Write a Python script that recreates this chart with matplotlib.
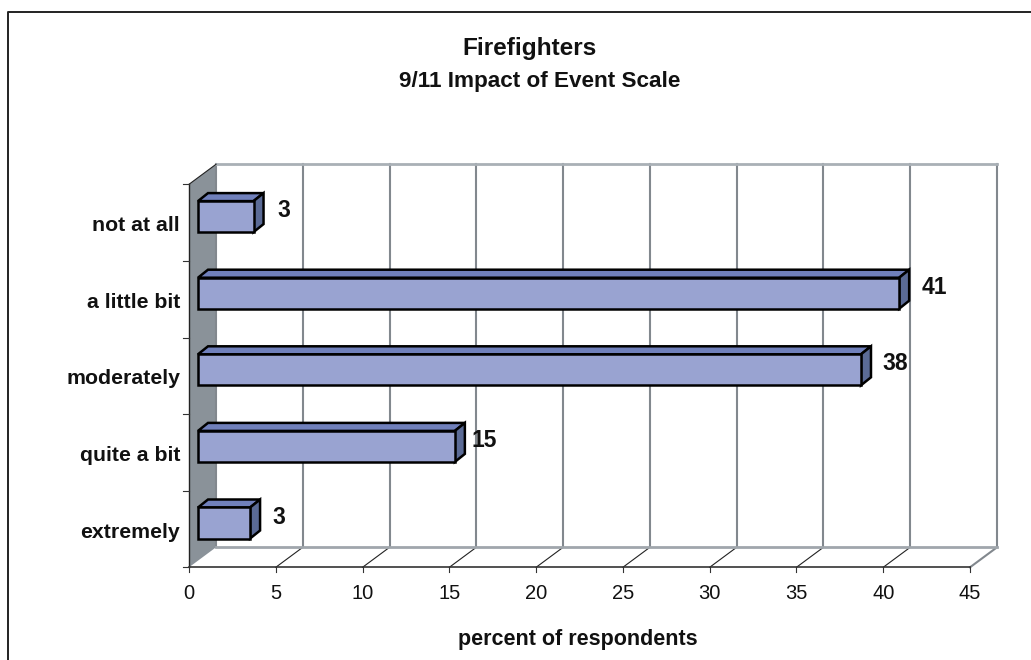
import matplotlib
matplotlib.use("Agg")
import matplotlib.pyplot as plt
from matplotlib.patches import Polygon

# top to bottom, as on the chart
categories = ["not at all", "a little bit", "moderately", "quite a bit", "extremely"]
bar_lengths = [3.2, 40.4, 38.2, 14.8, 3.0]
value_labels = ["3", "41", "38", "15", "3"]
x_ticks = [0, 5, 10, 15, 20, 25, 30, 35, 40, 45]

W, H = 1031, 660
LEFT, RIGHT, TOP, BOTTOM = 189, 970, 184.3, 567.3

plt.rcParams['font.family'] = ['Liberation Sans', 'DejaVu Sans']

fig = plt.figure(figsize=(W / 100, H / 100), dpi=100)
ax = fig.add_axes([LEFT / W, 1 - BOTTOM / H, (RIGHT - LEFT) / W, (BOTTOM - TOP) / H])
ax.set_xlim(0, 45)
ax.set_ylim(5, 0)
ax.axis("off")

# pixel sizes converted to data units
ux = (RIGHT - LEFT) / 45
uy = (BOTTOM - TOP) / 5
back_x = 27 / ux
back_y = 20 / uy
bar_dx = 10 / ux
bar_dy = 8 / uy
bar_x0 = 9 / ux
bar_h = 31 / uy
bar_shift = 6 / uy
label_gaps = [20, 25, 24, 19, 19]  # px from bar end to centre of value label

GRID = "#82888e"
WALL = "#8a9299"
kw = dict(clip_on=False)

# left wall
ax.add_patch(Polygon([(0, 0), (back_x, -back_y), (back_x, 5 - back_y), (0, 5)],
                     facecolor=WALL, edgecolor="none", zorder=1, **kw))

# back wall grid + floor lines
for t in x_ticks:
    ax.plot([t + back_x, t + back_x], [-back_y, 5 - back_y], color=GRID, lw=1.5, zorder=2, **kw)
    if 0 < t < 45:
        ax.plot([t, t + back_x], [5, 5 - back_y], color="#222222", lw=0.8, zorder=2, **kw)
ax.plot([45, 45 + back_x], [5, 5 - back_y], color=GRID, lw=1.5, zorder=2, **kw)
ax.plot([back_x, 45 + back_x], [-back_y, -back_y], color="#a9b0b6", lw=2, zorder=2, **kw)
ax.plot([back_x, 45 + back_x], [5 - back_y, 5 - back_y], color="#a0a6ac", lw=2, zorder=2, **kw)

# front axis lines and ticks
ax.plot([0, 0], [0, 5], color="#222222", lw=1, zorder=3, **kw)
ax.plot([0, back_x], [0, -back_y], color="#222222", lw=0.8, zorder=3, **kw)
ax.plot([0, 45], [5, 5], color="#333333", lw=1.2, zorder=3, **kw)
for t in x_ticks:
    ax.plot([t, t], [5, 5 + 5 / uy], color="#333333", lw=0.8, zorder=3, **kw)
    ax.text(t, 5 + 26 / uy, str(t), ha="center", va="center", fontsize=14.5, color="#111111", **kw)
for i in range(6):
    ax.plot([-6 / ux, 0], [i, i], color="#333333", lw=0.8, zorder=3, **kw)

# bars: front face plus top and side faces
for i, (cat, length, lab) in enumerate(zip(categories, bar_lengths, value_labels)):
    yc = i + 0.5 - bar_shift
    y0, y1 = yc - bar_h / 2, yc + bar_h / 2
    x0 = bar_x0
    x1 = bar_x0 + length
    ax.barh(yc, length, height=bar_h, left=x0, color="#99a3d1", edgecolor="black", linewidth=1.8, zorder=5)
    ax.add_patch(Polygon([(x0, y0), (x0 + bar_dx, y0 - bar_dy), (x1 + bar_dx, y0 - bar_dy), (x1, y0)],
                         facecolor="#7080bb", edgecolor="black", lw=1.8, zorder=4, **kw))
    ax.add_patch(Polygon([(x1, y0), (x1 + bar_dx, y0 - bar_dy), (x1 + bar_dx, y1 - bar_dy), (x1, y1)],
                         facecolor="#5b6b96", edgecolor="black", lw=1.8, zorder=4, **kw))
    ax.text(x1 + bar_dx + label_gaps[i] / ux, yc - 6 / uy, lab, ha="center", va="center",
            fontsize=16.5, fontweight="bold", color="#111111", zorder=6, **kw)
    ax.text(-9 / ux, i + 0.5 + 3 / uy, cat, ha="right", va="center", fontsize=15.3,
            fontweight="bold", color="#111111", **kw)

fig.text(529.5 / W, 1 - 49 / H, "Firefighters", ha="center", va="center",
         fontsize=17.6, fontweight="bold", color="#111111")
fig.text(539.5 / W, 1 - 82 / H, "9/11 Impact of Event Scale", ha="center", va="center",
         fontsize=16.2, fontweight="bold", color="#111111")
fig.text(578 / W, 1 - 639 / H, "percent of respondents", ha="center", va="center",
         fontsize=15.5, fontweight="bold", color="#111111")

# outer chart frame: left and top edges only, runs off the image
fig.add_artist(plt.Line2D([7.5 / W, 7.5 / W, 1], [0, 1 - 12 / H, 1 - 12 / H], color="#222222", lw=1.4))

fig.savefig("out.png", dpi=100)
